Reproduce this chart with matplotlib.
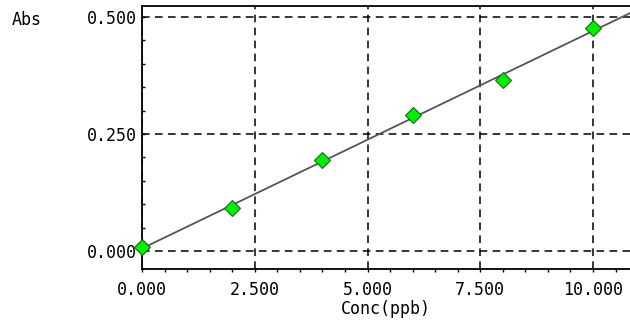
import numpy as np
import matplotlib
matplotlib.use("Agg")
import matplotlib.pyplot as plt
from matplotlib.ticker import MultipleLocator, FormatStrFormatter

# calibration standards
conc = [0.0, 2.0, 4.0, 6.0, 8.0, 10.0]  # ppb
absorb = [0.0085, 0.092, 0.194, 0.291, 0.365, 0.476]

# linear fit of calibration curve
slope, icpt = np.polyfit(conc, absorb, 1)

plt.rcParams["font.family"] = "DejaVu Sans Mono"

fig = plt.figure(figsize=(6.3, 3.25), dpi=100)
ax = fig.add_axes([142/630, 56/325, 488/630, 263/325])

xmax = 10.82
xf = np.array([0.0, xmax])
ax.plot(xf, slope*xf + icpt, color="#555555", lw=1.3, zorder=3)
ax.plot(conc, absorb, ls="none", marker="D", ms=8.5, mfc="#00ee00", mec="#1a6a1a", mew=0.8,
        zorder=4, clip_on=False)

ax.set_xlim(0, xmax)
ax.set_ylim(-0.0385, 0.5235)

ax.xaxis.set_major_locator(MultipleLocator(2.5))
ax.xaxis.set_minor_locator(MultipleLocator(0.5))
ax.yaxis.set_major_locator(MultipleLocator(0.25))
ax.yaxis.set_minor_locator(MultipleLocator(0.05))
ax.xaxis.set_major_formatter(FormatStrFormatter("%.3f"))
ax.yaxis.set_major_formatter(FormatStrFormatter("%.3f"))

ax.grid(True, which="major", color="black", ls=(0, (5, 3.5)), lw=1.1)
ax.tick_params(axis="x", which="both", direction="out", length=2.5, width=1, pad=6, labelsize=12)
ax.tick_params(axis="y", which="both", direction="in", length=2.5, width=1, pad=4, labelsize=12)
for s in ["left", "bottom", "top"]:
    ax.spines[s].set_linewidth(1.3)
ax.spines["right"].set_visible(False)

ax.set_xlabel("Conc(ppb)", fontsize=12, labelpad=1)
fig.text(12/630, 1 - 20/325, "Abs", fontsize=12, ha="left", va="center")

fig.savefig("out.png", dpi=100)
